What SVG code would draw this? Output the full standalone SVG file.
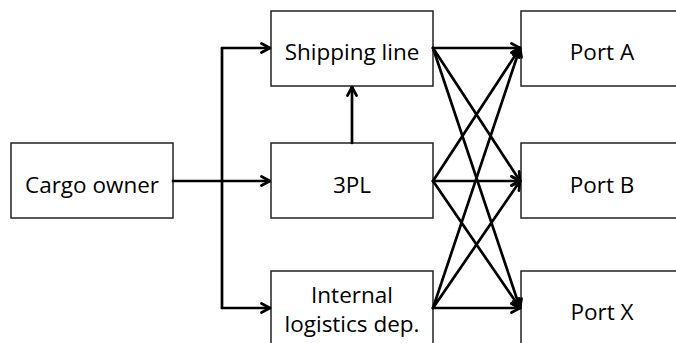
<svg xmlns="http://www.w3.org/2000/svg" width="676" height="343" viewBox="0 0 676 343">
  <style>
    .box { fill: #ffffff; stroke: #222222; stroke-width: 1.5; }
    .lbl { font-family: "Open Sans", "Liberation Sans", sans-serif; font-size: 22.5px; fill: #000000; text-anchor: middle; }
    .wire { fill: none; stroke: #000000; stroke-width: 2.7; stroke-linecap: round; stroke-linejoin: round; }
    .arr { marker-end: url(#head); }
  </style>
  <defs>
    <marker id="head" viewBox="0 0 12 12" refX="11" refY="6" markerWidth="12" markerHeight="12" markerUnits="userSpaceOnUse" orient="auto">
      <path d="M2.5 1.5 L11 6 L2.5 10.5" fill="none" stroke="#000000" stroke-width="2.7" stroke-linecap="round" stroke-linejoin="miter"/>
    </marker>
  </defs>
  <rect width="676" height="343" fill="#ffffff"/>

  <g id="cargo-owner">
    <rect class="box" x="11" y="143" width="162" height="75"/>
    <text class="lbl" x="92" y="193">Cargo owner</text>
  </g>
  <g id="shipping-line">
    <rect class="box" x="271" y="11" width="162" height="75"/>
    <text class="lbl" x="352" y="60">Shipping line</text>
  </g>
  <g id="third-party-logistics">
    <rect class="box" x="271" y="143" width="162" height="75"/>
    <text class="lbl" x="352" y="193">3PL</text>
  </g>
  <g id="internal-logistics">
    <rect class="box" x="271" y="271" width="162" height="75"/>
    <text class="lbl" x="352" y="303">Internal</text>
    <text class="lbl" x="352" y="332">logistics dep.</text>
  </g>
  <g id="port-a">
    <rect class="box" x="521" y="11" width="162" height="75"/>
    <text class="lbl" x="602" y="60">Port A</text>
  </g>
  <g id="port-b">
    <rect class="box" x="521" y="143" width="162" height="75"/>
    <text class="lbl" x="602" y="193">Port B</text>
  </g>
  <g id="port-x">
    <rect class="box" x="521" y="271" width="162" height="75"/>
    <text class="lbl" x="602" y="320">Port X</text>
  </g>

  <g id="connectors">
    <!-- cargo owner fans out to the three carriers -->
    <path class="wire" d="M173 181 H222"/>
    <path class="wire" d="M222 48 V308"/>
    <path class="wire arr" d="M222 48 H270"/>
    <path class="wire arr" d="M222 181 H270"/>
    <path class="wire arr" d="M222 308 H270"/>
    <!-- 3PL to shipping line -->
    <path class="wire arr" d="M352 143 V87"/>
    <!-- every carrier to every port -->
    <path class="wire arr" d="M433 48 L520 48"/>
    <path class="wire arr" d="M433 48 L520 181"/>
    <path class="wire arr" d="M433 48 L520 308"/>
    <path class="wire arr" d="M433 181 L520 48"/>
    <path class="wire arr" d="M433 181 L520 181"/>
    <path class="wire arr" d="M433 181 L520 308"/>
    <path class="wire arr" d="M433 308 L520 48"/>
    <path class="wire arr" d="M433 308 L520 181"/>
    <path class="wire arr" d="M433 308 L520 308"/>
  </g>
</svg>
